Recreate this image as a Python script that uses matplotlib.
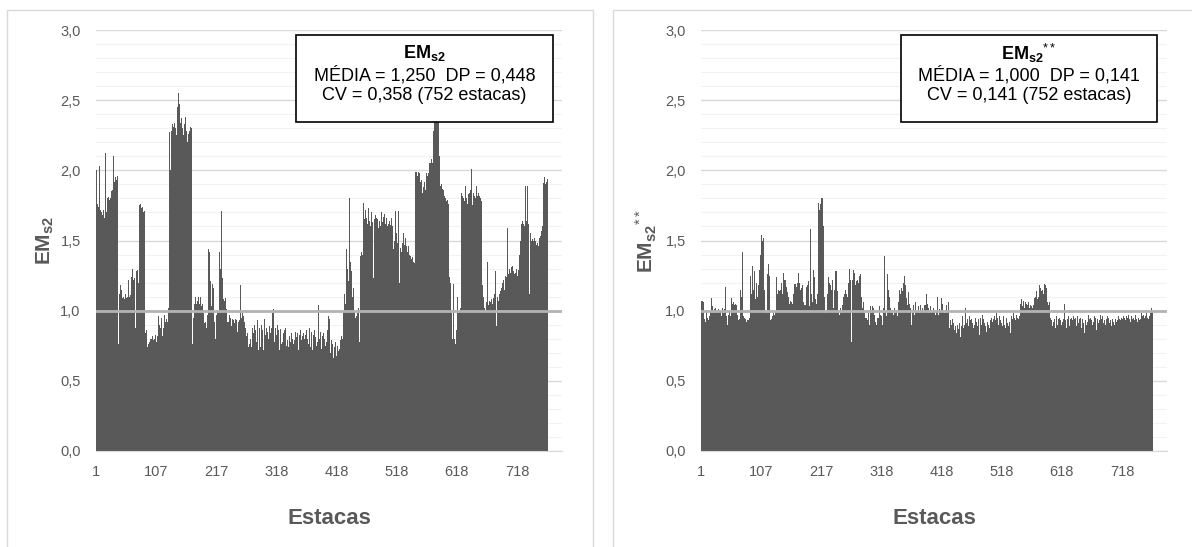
import matplotlib
matplotlib.use("Agg")
import matplotlib.pyplot as plt
from matplotlib.patches import Rectangle
import numpy as np

plt.rcParams['font.family'] = ['Liberation Sans', 'DejaVu Sans']
plt.rcParams['mathtext.fontset'] = 'custom'
plt.rcParams['mathtext.rm'] = 'Liberation Sans'
plt.rcParams['mathtext.it'] = 'Liberation Sans:italic'
plt.rcParams['mathtext.bf'] = 'Liberation Sans:bold'

# EMs2 per estaca (752 estacas)
em_s2 = [
    2.00, 2.02, 1.76, 1.78, 1.74, 2.03, 2.00, 1.72, 1.69, 1.70, 1.68, 2.05, 1.72, 1.70, 1.66, 2.12, 1.68, 1.70,
    1.69, 1.80, 1.81, 1.78, 1.79, 1.77, 1.80, 1.85, 1.88, 1.86, 1.90, 2.10, 1.92, 1.93, 1.95, 2.10, 1.93, 1.96,
    1.15, 0.76,
    1.10, 1.12, 1.18, 1.10, 1.15, 1.19, 1.09, 1.10, 1.14, 1.08, 1.10, 1.12, 1.09, 1.21, 1.10, 1.09, 1.22, 1.10,
    1.09, 1.11, 1.10, 1.24, 1.30, 1.24, 1.22, 1.20, 1.23, 0.88, 1.20, 1.28, 1.30, 1.29, 1.20,
    1.74, 1.75, 1.72, 1.76, 1.73, 1.70, 1.74, 1.72, 1.70, 1.71,
    0.85, 0.84, 1.85, 0.86, 0.74, 0.80, 0.76, 0.82, 0.78, 0.80, 1.68, 0.80, 0.77, 0.82, 0.79, 0.86, 0.80, 1.03,
    0.83, 0.78, 0.95, 0.82, 0.96, 0.95, 0.90, 0.96, 0.88, 0.95, 0.89, 0.82, 0.92, 0.88, 0.97, 0.96, 0.92, 0.98,
    0.94, 0.92, 0.97,
    1.02, 2.02, 2.27, 2.00, 2.30, 2.28, 1.10, 2.33, 2.31, 2.38, 2.34, 2.28, 2.30, 2.25, 1.12, 2.45, 2.57, 2.55,
    2.47, 2.25, 2.34, 2.20, 2.37, 2.30, 2.36, 2.25, 1.95, 2.33, 2.38, 2.16, 2.28, 2.13, 2.20, 2.26, 2.10, 2.28,
    2.22, 2.31, 2.30, 2.15,
    0.76,
    0.92, 0.95, 1.05, 1.18, 1.10, 1.31, 1.05, 1.07, 1.06, 1.10, 1.04, 1.05, 1.10, 1.09, 1.03, 1.04, 1.05, 0.98,
    1.00, 0.91, 0.94, 0.92, 0.88, 0.87, 0.97, 1.42, 1.44, 1.42, 1.90, 1.21, 1.10, 1.03, 1.19, 1.10, 1.16, 0.87,
    0.92, 0.80, 0.98, 0.97, 1.03,
    1.00, 0.98, 1.04, 1.42, 1.38, 1.30, 1.71, 1.25, 1.23, 1.03, 1.08, 1.07, 1.02, 1.09, 1.05, 1.01, 0.92, 0.95,
    0.92, 0.98, 0.97, 0.95, 0.87, 0.89, 0.96, 0.94, 0.93, 0.96, 0.91, 0.90, 0.94, 0.93, 0.88, 0.85, 0.94, 0.92,
    0.93, 1.05, 1.18, 0.87, 0.95, 0.98, 0.93, 0.96, 0.90, 0.92, 0.88, 0.79, 0.82, 0.80, 0.84,
    0.74, 0.72, 0.76, 0.73, 0.80, 0.74, 0.78, 0.88, 0.72, 0.84, 0.90, 0.76, 0.86, 0.82, 0.78, 0.93, 0.80, 0.72,
    0.85, 0.88, 0.74, 0.82, 0.90, 0.79, 0.86, 0.72, 0.84, 0.94, 0.78, 0.83, 0.88, 0.76, 0.85, 0.73, 0.80, 0.89,
    0.77, 0.84, 0.72, 0.88, 0.98, 0.80, 1.01, 0.85, 0.78, 0.88, 0.74, 0.83, 0.90, 0.76, 0.86, 0.80, 0.72, 0.87,
    0.82, 0.76, 0.89, 0.78, 0.84, 0.70, 0.86, 0.80, 0.88, 0.75, 0.83, 0.79, 0.90, 0.74, 0.82, 0.86, 0.78, 0.71,
    0.84, 0.80, 0.87, 0.76, 0.82, 0.79, 0.85, 0.74, 0.81, 0.78, 0.84, 0.72, 0.80, 0.83, 0.76, 0.86, 0.79, 0.73,
    0.82, 0.77, 0.84, 0.80, 0.71, 0.83, 0.78, 0.86, 0.80, 0.94, 0.76, 0.82, 0.88, 0.74, 0.80, 0.85, 0.78, 0.72,
    0.83, 0.79, 0.86, 0.97, 0.81, 0.75, 0.84, 0.78, 0.82, 1.04, 0.80, 0.76, 0.85, 0.79, 0.73, 0.82, 0.77, 0.84,
    0.70, 0.80, 0.75, 0.83, 0.78, 0.72, 0.86, 0.96, 0.80, 0.94, 0.74, 0.70, 0.79, 0.68, 0.76, 0.72, 0.66, 0.74,
    0.70, 0.78, 0.72, 0.68, 0.75, 0.80, 0.71, 0.77, 0.73, 0.79, 0.74, 0.82, 0.76, 0.80,
    1.00, 1.31, 1.12, 1.25, 1.05, 1.44, 1.21, 1.30, 1.10, 1.21, 1.80, 1.47, 1.35, 1.21, 1.28, 1.10, 1.23, 1.16,
    1.05, 1.00, 0.95, 0.92, 0.96, 0.94, 0.98, 1.02, 0.90, 0.78,
    1.30, 1.39, 1.42, 1.44, 1.40, 1.73, 1.77, 1.65, 1.59, 1.72, 1.70, 1.66, 1.62, 1.68, 1.73, 1.69, 1.64, 1.60,
    1.66, 1.70, 1.67, 1.63, 1.23, 1.71, 1.65, 1.73, 1.68, 1.66, 1.62, 1.65, 1.69, 1.59, 1.64, 1.66, 1.60, 1.64,
    1.70, 1.63, 1.62, 1.67, 1.66, 1.69, 1.62, 1.65, 1.66, 1.69, 1.60, 1.62, 1.66, 1.64, 1.69, 1.61, 1.66, 1.63,
    1.60, 1.62, 1.44, 1.50, 1.57, 1.71, 1.55, 1.57, 1.48,
    1.60, 1.71, 1.20, 1.39, 1.45, 1.62, 1.42, 1.48, 1.45, 1.55, 1.50, 1.47, 1.52, 1.64, 1.46, 1.44, 1.42, 1.46,
    1.44, 1.40, 1.42, 1.39, 1.37, 1.40, 1.38, 1.36, 1.35, 1.34,
    2.40, 1.99, 1.97, 1.99, 1.96, 1.98, 1.99, 1.95, 1.98, 1.92, 1.91, 1.93, 1.90, 1.84, 1.88, 1.95, 1.92, 1.90,
    1.86, 1.98, 2.00, 1.96, 2.01, 1.98, 2.05, 2.02,
    2.05, 2.00, 2.08, 2.05, 2.32, 2.28, 2.20, 2.45, 2.55, 2.62, 2.50, 2.44, 2.40, 2.52, 2.36, 2.10, 1.91, 1.89,
    1.90, 1.86, 1.87, 1.85, 1.86, 1.82, 1.84, 1.80, 1.82, 1.78, 1.79, 1.77, 1.76,
    1.23, 1.24, 1.20, 1.10, 0.98, 1.02, 0.80, 1.19, 0.95, 0.80, 0.92, 0.76, 0.86, 0.95, 1.10, 1.00, 0.98, 1.00,
    1.05, 1.02, 1.00,
    1.84, 1.82, 1.86, 1.80, 1.84, 1.78, 1.89, 1.82, 1.80, 1.85, 1.76, 1.83, 1.80, 1.84, 1.80, 1.86, 2.01, 1.82,
    1.75, 1.80, 1.84, 1.82, 1.86, 1.80, 1.78, 1.89, 1.82, 1.80, 1.84, 1.78, 1.82, 1.80, 1.79, 1.78,
    1.30, 1.18, 1.10, 1.05, 1.02, 1.08, 1.00, 1.06, 1.10, 1.35, 1.08, 1.04, 1.07, 1.10, 1.06, 1.30, 1.08, 1.05,
    1.00, 1.09, 1.06, 1.12, 1.28, 1.04, 0.89, 1.02, 1.10, 1.07, 1.08, 1.12, 1.05, 1.14,
    1.16, 1.14, 1.20, 1.18, 1.22, 1.15, 1.42, 1.25, 1.20, 1.24, 1.59, 1.30, 1.26, 1.28, 1.30, 1.27, 1.30, 1.31,
    1.29, 1.32, 1.28, 1.30, 1.26, 1.29, 1.27, 1.30, 1.28, 1.25, 1.29,
    1.44, 1.40, 1.53, 1.50, 1.62, 1.66, 1.64, 1.66, 1.62, 1.60, 1.70, 1.89, 1.66, 1.64, 1.89, 1.70, 1.62, 1.60,
    1.12, 1.55, 1.53, 1.50, 1.52, 1.51,
    1.50, 1.48, 1.52, 1.49, 1.50, 1.47, 1.51, 1.48, 1.50, 1.46, 1.52, 1.49, 1.53, 1.50, 1.57, 1.60, 2.05, 1.91,
    1.80, 1.95, 1.90, 1.93, 1.92, 1.95, 1.94,
]

# EMs2** per estaca
em_s2_norm = [
    1.07, 0.96, 1.07, 0.93, 1.06, 0.94, 1.07, 0.92, 0.97, 1.00, 0.95, 1.02, 0.93, 0.99, 0.96, 1.00, 0.97, 1.09,
    1.00, 1.03, 0.98, 1.00, 1.01, 0.99, 1.02, 0.98, 1.04, 1.00, 0.95, 1.01, 0.99, 1.07, 1.00, 1.08, 0.96, 1.02,
    1.07, 0.98, 1.06, 1.01,
    1.17, 1.00, 0.96, 0.92, 0.90, 0.97, 0.94, 1.00, 0.93, 0.96, 1.09, 1.02, 1.05, 1.03, 1.06, 1.04, 1.02, 1.05,
    0.99, 1.04, 0.97, 0.95, 0.93, 0.96, 0.94, 1.15, 1.14, 1.10, 1.00, 1.42, 0.96, 0.94, 0.95, 0.93, 0.94, 0.92,
    0.95, 0.93, 0.94, 0.93, 0.95, 0.98,
    1.25, 1.20, 1.12, 1.32, 1.10, 1.15, 1.35, 1.28, 1.08, 1.50, 1.20, 1.35, 1.10, 1.18, 0.98, 1.29, 1.22, 1.40,
    1.54, 1.53, 1.50, 1.52, 1.40, 1.15, 1.02, 1.00, 0.98, 1.10, 1.26, 1.20, 1.33, 1.25, 1.15, 0.93, 0.95, 0.94,
    0.96, 0.92, 0.98, 1.05, 0.97, 1.00, 1.08,
    1.24, 1.15, 1.12, 1.15, 1.13, 1.14, 1.16, 1.15, 1.20, 1.14, 1.12, 1.20, 1.27, 1.22, 1.18, 1.22, 1.15, 1.17,
    1.13, 1.14, 1.10, 1.07, 1.05, 1.07, 1.08, 1.06, 1.07, 1.05, 1.12, 1.16, 1.19, 1.18, 1.19, 1.17, 1.18, 1.20,
    1.18, 1.27, 1.20, 1.17, 1.15, 1.14, 1.16, 1.18, 1.10, 1.06, 1.05, 1.04, 1.04, 1.10, 1.17, 1.15,
    1.18, 1.21, 1.12, 1.03, 1.10, 1.58, 1.12, 1.14, 1.06, 1.20, 1.29, 1.24, 1.22, 1.08, 1.06, 1.05, 1.12, 1.79,
    1.77, 1.78, 1.72, 1.76, 1.81, 1.80, 1.78, 1.80, 1.60, 1.44, 1.10, 1.02, 0.98, 1.00, 1.05, 1.12,
    1.25, 1.24, 1.20, 1.25, 1.18, 1.11, 1.15, 1.22, 1.08, 1.02, 1.10, 1.15, 1.28, 1.27, 1.28, 1.20, 1.14, 1.00,
    0.86, 0.97, 1.00, 1.02, 0.98, 1.02, 1.04, 1.08, 1.10, 1.12, 1.21, 1.15, 1.06, 1.12, 1.10, 1.14, 1.20, 1.18,
    1.30, 1.22, 1.12, 0.78, 1.10, 1.22, 1.29, 1.20, 1.27, 1.21,
    1.18, 1.21, 1.28, 1.22, 1.26, 1.20, 1.25, 1.22, 1.26, 1.19, 1.10, 1.02, 1.00, 1.06, 1.04, 0.98, 0.95, 1.02,
    0.95, 0.92, 0.93, 0.98, 0.90, 0.90, 0.96, 1.03, 0.98, 1.02, 1.03, 0.95, 1.02, 0.97, 0.90, 0.92, 0.89, 0.90,
    0.95, 0.98, 0.95, 1.00, 1.03, 0.97, 1.04, 0.96,
    0.90, 0.99, 1.02, 0.98, 1.39, 1.00, 1.00, 0.96, 1.08, 1.26, 1.15, 1.22, 1.10, 1.06, 1.02, 0.98, 1.05, 1.00,
    1.00, 0.97, 1.02, 1.05, 0.98, 0.97, 1.00, 0.96, 1.02, 1.06, 1.10, 1.15, 1.12, 1.20, 1.16, 1.17, 1.14, 1.20,
    1.36, 1.25, 1.34, 1.18,
    1.09, 1.05, 1.04, 1.08, 1.13, 1.05, 1.00, 1.02, 0.96, 0.90, 0.98, 1.00, 1.04, 1.02, 0.97, 1.06, 1.10, 0.99,
    0.95, 1.00, 1.03, 1.02, 0.98, 1.10, 1.04, 1.00, 0.96, 1.02, 0.95, 0.99, 1.04, 1.01, 1.04, 1.00, 1.12, 1.05,
    0.98, 1.02, 0.97, 0.98, 1.03, 1.09, 1.00, 0.95, 0.99, 1.02, 0.96, 1.00, 0.90, 0.97, 1.00, 1.03, 1.10, 1.00,
    0.97, 1.01, 0.95, 1.00, 1.04, 1.09, 1.05, 1.09, 1.00, 1.00, 0.98, 0.98, 1.02, 1.04, 1.08, 1.00, 1.06, 0.96,
    0.88, 0.85, 0.93, 0.90, 0.82, 0.94, 0.88, 0.91, 0.86, 0.95, 0.89, 0.92, 0.84, 0.90, 0.95, 0.87, 0.93, 0.91,
    0.81, 0.94, 0.89, 0.92, 0.96, 0.88, 0.93, 0.90, 0.95, 1.02, 0.91, 0.87, 0.94, 0.92, 0.89, 0.96, 0.90, 0.93,
    0.85, 0.94, 0.91, 0.97, 0.88, 0.93, 0.90, 0.95, 0.87, 0.92, 0.96, 0.89, 0.94, 0.91, 0.83, 0.93, 0.95, 0.90,
    0.92, 0.97, 0.88, 0.94, 0.91, 0.96, 0.89, 0.93, 0.85, 0.92, 0.95, 0.90, 0.97, 0.88, 0.93, 0.91, 0.95, 0.82,
    0.92, 0.94, 0.89, 0.96, 0.91, 0.93, 0.98, 0.88, 0.95, 0.92, 0.90, 0.96, 0.87, 0.93, 0.91, 0.95, 0.89, 0.93,
    0.96, 0.90, 0.94, 0.88, 0.92, 0.95, 0.91, 0.97, 0.89, 0.94, 0.92, 0.84, 0.93, 0.96, 0.90, 0.94, 0.98, 0.91,
    0.95, 0.88, 0.93, 0.97, 0.92, 0.95, 0.90, 0.94, 0.96,
    1.11, 1.05, 1.10, 1.08, 1.03, 1.06, 1.07, 1.04, 1.02, 1.06, 1.03, 1.05, 1.00, 1.04, 1.06, 1.05, 1.02, 1.06,
    1.04, 1.03, 1.07, 1.02, 1.05, 1.04, 1.09, 1.06, 1.10, 1.13, 1.14, 1.08, 1.12, 1.10, 1.15, 1.18, 1.16, 1.12,
    1.14, 1.08, 1.15, 1.12, 1.16, 1.19, 1.14, 1.18, 1.16, 1.10, 1.06, 1.05, 1.04, 1.06, 1.00,
    0.95, 0.90, 0.93, 0.89, 0.96, 0.92, 0.91, 0.94, 0.88, 0.93, 0.96, 1.04, 0.90, 0.94, 0.92, 0.95, 0.89, 0.93,
    0.90, 0.95, 0.92, 0.96, 0.94, 1.05, 0.91, 0.93, 0.95, 0.88, 0.94, 0.90, 0.96, 0.92, 0.89, 0.94, 0.91, 0.95,
    0.87, 0.93, 0.96, 0.90, 0.94, 0.92, 0.95, 0.89, 0.93, 0.96, 1.02, 0.91, 0.94, 0.90, 0.95, 0.93, 0.88, 0.94,
    0.96, 0.91, 0.95, 0.84, 0.93, 0.96, 0.90, 0.94, 0.92, 0.97, 0.89, 0.94, 0.91, 0.95, 0.93, 0.98, 0.90, 0.94,
    0.92, 0.96, 0.89, 0.95, 0.92, 0.86, 0.94, 0.96, 0.91, 0.95, 0.93, 0.97, 0.90, 0.94, 0.92, 0.96, 0.91, 0.95,
    0.93, 0.97, 0.90, 0.94, 0.92, 0.96, 0.93, 0.95, 0.91, 0.98, 0.93, 0.95, 0.89, 0.94, 0.96, 0.92, 0.95, 0.90,
    0.94, 0.97, 0.92, 0.95, 0.93, 0.96, 0.91, 0.94, 0.97, 0.93, 0.95, 0.90, 0.94, 0.96, 0.92, 0.95, 0.98, 0.93,
    0.96, 0.91, 0.95, 0.93, 0.97, 0.94, 0.96, 0.92, 1.00, 0.96, 0.94, 0.99, 0.95, 1.01, 0.93, 0.97, 1.00, 0.94,
    0.96, 0.92, 0.95, 0.97, 0.93, 0.96, 0.94, 0.98, 0.92, 0.96, 0.94, 0.97, 0.95, 0.93, 0.96, 0.94, 0.98, 0.95,
    0.97, 0.94, 1.07, 0.96, 0.98, 0.95, 1.02, 1.01, 0.99,
]

tick_pos = [0, 100, 200, 300, 400, 500, 600, 700]
tick_labels = ['1', '107', '217', '318', '418', '518', '618', '718']

box_lines_left = ['MÉDIA = 1,250  DP = 0,448', 'CV = 0,358 (752 estacas)']
box_lines_right = ['MÉDIA = 1,000  DP = 0,141', 'CV = 0,141 (752 estacas)']

assert len(em_s2) == 752, len(em_s2)
assert len(em_s2_norm) == 752, len(em_s2_norm)

W, H = 1192, 547
fig = plt.figure(figsize=(W / 100, H / 100), dpi=100)
fig.patch.set_facecolor('white')


def fx(x):
    return x / W


def fy(y):
    return 1 - y / H


def frame(x0, x1):
    fig.add_artist(Rectangle((fx(x0), fy(H + 5)), fx(x1 - x0), (H + 5 - 10) / H,
                             transform=fig.transFigure, fill=False,
                             edgecolor='#d9d9d9', lw=1.0, clip_on=False))


def panel(left_px, values, ylabel):
    ax = fig.add_axes([fx(left_px), fy(451), fx(466), 421 / H])
    x = np.arange(len(values))
    ax.bar(x, values, width=1.0, color='#595959', linewidth=0, zorder=2)
    ax.axhline(1.0, color='#b3b3b3', lw=2.0, zorder=3)
    ax.set_xlim(-0.5, -0.5 + 466 / 0.601)
    ax.set_ylim(0, 3)
    ax.set_yticks(np.arange(0, 3.01, 0.5))
    ax.set_yticklabels([f'{v:.1f}'.replace('.', ',') for v in np.arange(0, 3.01, 0.5)])
    ax.set_yticks(np.arange(0, 3.01, 0.1), minor=True)
    ax.grid(axis='y', which='major', color='#d9d9d9', lw=1.0)
    ax.grid(axis='y', which='minor', color='#f2f2f2', lw=0.8)
    ax.set_axisbelow(True)
    ax.set_xticks(tick_pos)
    ax.set_xticklabels(tick_labels)
    for s in ('top', 'right', 'left'):
        ax.spines[s].set_visible(False)
    ax.spines['bottom'].set_color('#d9d9d9')
    ax.tick_params(axis='both', which='both', length=0, labelcolor='#595959', labelsize=10.5)
    ax.tick_params(axis='x', pad=10)
    ax.tick_params(axis='y', pad=11)
    ax.set_xlabel('Estacas', fontsize=16, fontweight='bold', color='#595959')
    ax.xaxis.set_label_coords(0.5, -(518 - 451) / 421)
    ax.xaxis.label.set_va('center')
    ax.set_ylabel(ylabel, fontsize=15, color='#595959')
    ax.yaxis.label.set_va('center')
    return ax


def stats_box(x0, x1, title, lines):
    fig.add_artist(Rectangle((fx(x0), fy(122)), fx(x1 - x0), (122 - 35) / H,
                             transform=fig.transFigure, facecolor='white',
                             edgecolor='black', lw=1.2, zorder=5))
    cx = fx((x0 + x1) / 2)
    fig.text(cx, fy(53), title, ha='center', va='center', fontsize=13, zorder=6)
    fig.text(cx, fy(75), lines[0], ha='center', va='center', fontsize=13, zorder=6)
    fig.text(cx, fy(96), lines[1], ha='center', va='center', fontsize=13, zorder=6)


frame(7, 593)
frame(613, 1200)

ax1 = panel(96, em_s2, r'$\mathbf{EM}_{\mathbf{s2}}$')
ax1.yaxis.set_label_coords((45 - 96) / 466, 0.5)
ax2 = panel(701, em_s2_norm, r'$\mathbf{EM}_{\mathbf{s2}}{}^{**}$')
ax2.yaxis.set_label_coords((646 - 701) / 466, 0.5)

stats_box(296, 553, r'$\mathbf{EM}_{\mathbf{s2}}$', box_lines_left)
stats_box(901, 1157, r'$\mathbf{EM}_{\mathbf{s2}}{}^{**}$', box_lines_right)

fig.savefig('out.png', dpi=100, facecolor='white')
